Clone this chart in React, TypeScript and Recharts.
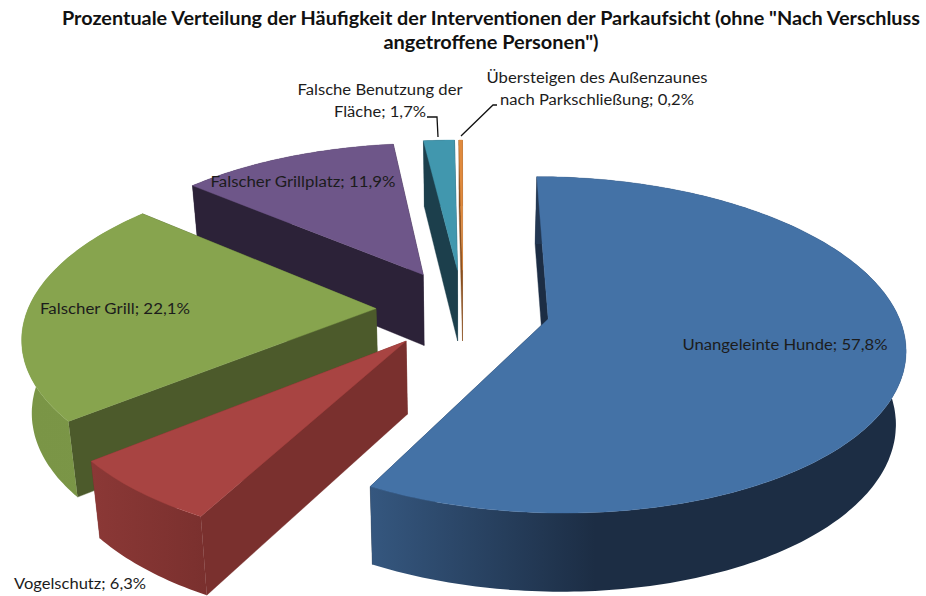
import React from "react";
import { PieChart, Pie, Cell } from "recharts";

// Data, back-to-front so that the nearer slices paint last (angles run counter-clockwise from 12 o'clock).
const names = [
  "Übersteigen des Außenzaunes nach Parkschließung",
  "Falsche Benutzung der Fläche",
  "Falscher Grillplatz",
  "Falscher Grill",
  "Vogelschutz",
  "Unangeleinte Hunde",
];
const shares = [0.2, 1.7, 11.9, 22.1, 6.3, 57.8];
const titleLines = [
  'Prozentuale Verteilung der Häufigkeit der Interventionen der Parkaufsicht (ohne "Nach Verschluss',
  'angetroffene Personen")',
];
const labelLineBreaks = [
  ["Übersteigen des Außenzaunes", "nach Parkschließung"],
  ["Falsche Benutzung der", "Fläche"],
  ["Falscher Grillplatz"],
  ["Falscher Grill"],
  ["Vogelschutz"],
  ["Unangeleinte Hunde"],
];

// Styles
const topColors = ["#e08a3d", "#4197ae", "#6e5689", "#87a44e", "#a84442", "#4472a6"];
const cutColors = ["#8a5020", "#1c3f4c", "#2c2238", "#4c5a2b", "#7a302e", "#1c2d44"];
const rimStops: [string, string][] = [
  ["#8a5020", "#8a5020"],
  ["#1c3f4c", "#1c3f4c"],
  ["#2c2238", "#2c2238"],
  ["#7a9546", "#7b9647"],
  ["#8b3836", "#7a302e"],
  ["#35577f", "#1c2d44"],
];
// label anchors [centre x, first baseline]
const labelAnchors = [
  [597, 83],
  [380, 95],
  [303, 187],
  [115, 314],
  [80, 589],
  [785, 350],
];
const labelWidths = [
  [221, 194],
  [165, 92],
  [185],
  [150],
  [132],
  [205],
];
const leaders = [
  "M497 105 L493 105 L461 136",
  "M427 117 L437 117 L438 137",
  "",
  "",
  "",
  "",
];

// Projection of the tilted pie
const CX = 463;
const CY = 309;
const RADIUS = 348;
const EXPLODE = 87;
const TILT = 0.463;
const PERSPECTIVE = 0.00044;
const DEPTH = 72;
const SHRINK = 0.023;
const RAD = Math.PI / 180;

const project = (cx: number, cy: number, X: number, Y: number, low: boolean) => {
  const w = 1 / (1 + PERSPECTIVE * Y);
  const xs = low ? 1 - SHRINK : 1;
  return [cx + X * w * xs, cy - TILT * Y * w + (low ? DEPTH * Math.sqrt(w) : 0)];
};

const toPath = (pts: number[][]) =>
  "M" + pts.map((p) => p[0].toFixed(1) + " " + p[1].toFixed(1)).join("L") + "Z";

const SliceShape = (props: any) => {
  const { cx, cy, outerRadius, startAngle, endAngle, index } = props;
  const i = index ?? names.indexOf(props.name);
  const mid = ((startAngle + endAngle) / 2) * RAD;
  const ox = EXPLODE * Math.cos(mid);
  const oy = EXPLODE * Math.sin(mid);
  const steps = Math.max(2, Math.ceil(Math.abs(endAngle - startAngle)));
  const arcAt = (low: boolean) => {
    const out: number[][] = [];
    for (let s = 0; s <= steps; s++) {
      const a = (startAngle + ((endAngle - startAngle) * s) / steps) * RAD;
      out.push(project(cx, cy, ox + outerRadius * Math.cos(a), oy + outerRadius * Math.sin(a), low));
    }
    return out;
  };
  const top = arcAt(false);
  const low = arcAt(true);
  const apexTop = project(cx, cy, ox, oy, false);
  const apexLow = project(cx, cy, ox, oy, true);
  const wall = [...top, ...[...low].reverse()];
  const cutA = [apexTop, top[0], low[0], apexLow];
  const cutB = [apexTop, top[steps], low[steps], apexLow];
  const cutColor = cutColors[i];
  return (
    <g>
      <path d={toPath(cutA)} fill={cutColor} stroke={cutColor} strokeWidth={0.4} />
      <path d={toPath(cutB)} fill={cutColor} stroke={cutColor} strokeWidth={0.4} />
      <path d={toPath(wall)} fill={`url(#rim${i})`} />
      <path d={toPath([apexTop, ...top])} fill={topColors[i]} stroke={topColors[i]} strokeWidth={0.4} />
    </g>
  );
};

const SliceLabel = (props: any) => {
  const { index, value } = props;
  const [x, y] = labelAnchors[index];
  const lines = [...labelLineBreaks[index]];
  const pct = `${Number(value).toFixed(1).replace(".", ",")}%`;
  lines[lines.length - 1] = `${lines[lines.length - 1]}; ${pct}`;
  return (
    <g>
      {leaders[index] ? <path d={leaders[index]} fill="none" stroke="#111" strokeWidth={1.3} /> : null}
      {lines.map((t, j) => (
        <text
          key={j}
          x={x}
          y={y + j * 22}
          textAnchor="middle"
          fontFamily="Lato, 'Open Sans', sans-serif"
          fontSize={15.5}
          fill="#1c1c1c"
          textLength={labelWidths[index][j]}
          lengthAdjust="spacingAndGlyphs"
        >
          {t}
        </text>
      ))}
    </g>
  );
};

const tableData = names.map((name, i) => ({ name, value: shares[i] }));

export default function App() {
  return (
    <div style={{ position: "absolute", left: 0, top: 0, width: 926, height: 596, background: "#fff" }}>
      <PieChart width={926} height={596} margin={{ top: 0, right: 0, bottom: 0, left: 0 }}>
        <defs>
          {rimStops.map((s, i) => (
            <linearGradient key={i} id={`rim${i}`} x1="0" y1="0" x2="1" y2="0">
              <stop offset="0" stopColor={s[0]} />
              <stop offset={i === 5 ? "0.42" : "1"} stopColor={s[1]} />
            </linearGradient>
          ))}
        </defs>
        <text x={491} y={25} textAnchor="middle" fontFamily="Lato, sans-serif" fontWeight={700} fontSize={19.5} fill="#111" textLength={858} lengthAdjust="spacingAndGlyphs">
          {titleLines[0]}
        </text>
        <text x={491} y={49} textAnchor="middle" fontFamily="Lato, sans-serif" fontWeight={700} fontSize={19.5} fill="#111" textLength={215} lengthAdjust="spacingAndGlyphs">
          {titleLines[1]}
        </text>
        <Pie
          data={tableData}
          dataKey="value"
          nameKey="name"
          cx={CX}
          cy={CY}
          innerRadius={0}
          outerRadius={RADIUS}
          startAngle={90}
          endAngle={450}
          stroke="none"
          isAnimationActive={false}
          shape={SliceShape}
          label={SliceLabel}
          labelLine={false}
        >
          {tableData.map((d, i) => (
            <Cell key={d.name} fill={topColors[i]} />
          ))}
        </Pie>
      </PieChart>
    </div>
  );
}
